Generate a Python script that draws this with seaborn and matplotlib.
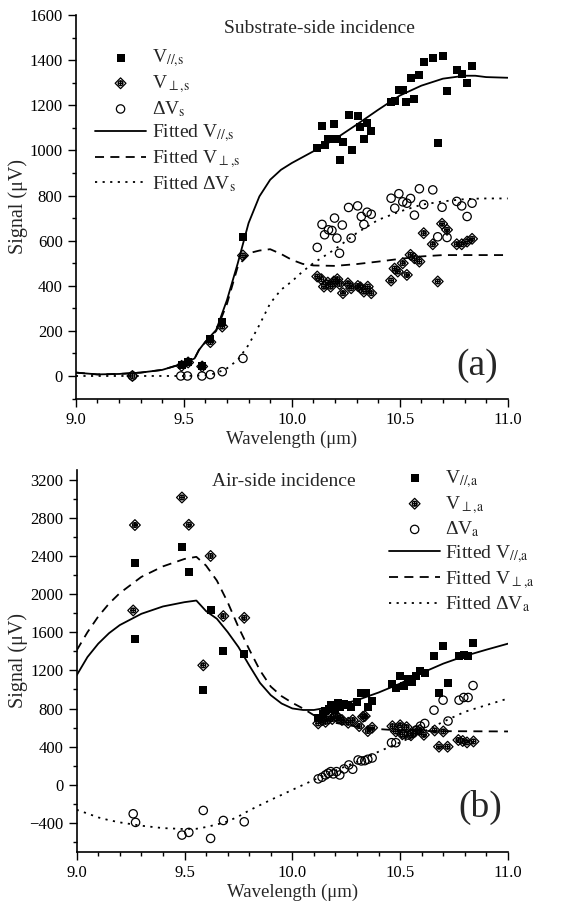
import matplotlib
matplotlib.use('Agg')
import matplotlib.pyplot as plt
from matplotlib.path import Path
from matplotlib.ticker import MultipleLocator, FormatStrFormatter
import numpy as np
import seaborn as sns

# ---- panel (a): substrate-side incidence ----
wl_par_s = [9.49, 9.52, 9.585, 9.623, 9.678, 9.774,
            10.118, 10.14, 10.152, 10.17, 10.195, 10.195, 10.211, 10.223, 10.237, 10.263,
            10.277, 10.305, 10.318, 10.334, 10.349, 10.365,
            10.46, 10.477, 10.496, 10.514, 10.531, 10.55, 10.568, 10.591, 10.611, 10.653,
            10.676, 10.699, 10.719, 10.764, 10.787, 10.812, 10.835]
v_par_s = [49, 64, 46, 164, 241, 615,
           1010, 1109, 1022, 1050, 1118, 1050, 1050, 959, 1037, 1158,
           1000, 1154, 1104, 1050, 1121, 1086,
           1213, 1220, 1266, 1269, 1216, 1322, 1229, 1333, 1392, 1408,
           1033, 1420, 1262, 1358, 1340, 1299, 1373]

wl_perp_s = [9.262, 9.49, 9.52, 9.585, 9.623, 9.678, 9.774,
             10.118, 10.137, 10.149, 10.167, 10.18, 10.195, 10.211, 10.221, 10.237, 10.26,
             10.275, 10.306, 10.318, 10.334, 10.352, 10.368,
             10.46, 10.476, 10.491, 10.514, 10.533, 10.55, 10.568, 10.591, 10.611, 10.653,
             10.676, 10.696, 10.719, 10.764, 10.787, 10.812, 10.835]
v_perp_s = [0, 45, 60, 42, 150, 219, 534,
            441, 429, 396, 414, 396, 419, 429, 408, 367, 411,
            389, 399, 393, 374, 396, 367,
            423, 476, 463, 500, 448, 537, 522, 507, 633, 584,
            419, 675, 648, 584, 584, 596, 608]

wl_dv_s = [9.262, 9.486, 9.517, 9.584, 9.623, 9.678, 9.774,
           10.118, 10.14, 10.152, 10.17, 10.186, 10.198, 10.209, 10.221, 10.234, 10.263,
           10.275, 10.305, 10.322, 10.334, 10.349, 10.368,
           10.46, 10.477, 10.496, 10.514, 10.533, 10.55, 10.568, 10.591, 10.611, 10.653,
           10.676, 10.696, 10.719, 10.764, 10.787, 10.812, 10.835]
dv_s = [0, 0, 0, 0, 6, 19, 78,
        570, 672, 626, 648, 645, 700, 611, 544, 669, 747,
        611, 754, 707, 672, 726, 717,
        788, 744, 808, 772, 766, 787, 713, 830, 760, 825,
        617, 748, 614, 774, 754, 707, 766]

fit_wl_s = [9.0, 9.1, 9.2, 9.3, 9.4, 9.5, 9.55, 9.57, 9.6, 9.65, 9.7, 9.75, 9.8,
            9.85, 9.9, 9.95, 10.0, 10.05, 10.1, 10.2, 10.3, 10.4, 10.5, 10.6, 10.7,
            10.8, 10.85, 10.9, 11.0]
fit_par_s = [15, 7, 9, 15, 27, 56, 78, 115, 152, 204, 337, 500, 678,
             796, 870, 914, 944, 970, 996, 1050, 1114, 1180, 1243, 1287, 1318,
             1331, 1331, 1325, 1322]
fit_perp_s = [15, 7, 9, 15, 27, 56, 78, 115, 150, 200, 320, 485, 544,
              556, 562, 541, 515, 497, 490, 488, 496, 507, 519, 530, 536,
              536, 536, 536, 536]
fit_dv_s = [0, 0, 0, 0, 0, 0, 1, 2, 3, 12, 34, 71, 138,
            226, 322, 382, 419, 463, 500, 562, 633, 692, 729, 759, 774,
            784, 786, 787, 787]

# ---- panel (b): air-side incidence ----
wl_par_a = [9.27, 9.27, 9.488, 9.52, 9.587, 9.621, 9.68, 9.777,
            10.12, 10.14, 10.15, 10.17, 10.18, 10.2, 10.21, 10.22, 10.24, 10.26,
            10.27, 10.3, 10.32, 10.34, 10.35, 10.37,
            10.464, 10.48, 10.498, 10.517, 10.537, 10.555, 10.575, 10.594, 10.614,
            10.657, 10.68, 10.699, 10.722, 10.773, 10.795, 10.815, 10.838]
v_par_a = [1532, 2326, 2490, 2228, 992, 1838, 1403, 1375,
           700, 740, 770, 800, 840, 790, 860, 820, 850, 840,
           820, 870, 960, 960, 820, 880,
           1062, 1020, 1139, 1041, 1114, 1076, 1139, 1194, 1173,
           1351, 968, 1452, 1072, 1351, 1365, 1351, 1487]

wl_perp_a = [9.262, 9.27, 9.488, 9.52, 9.587, 9.621, 9.68, 9.777,
             10.12, 10.138, 10.154, 10.17, 10.185, 10.2, 10.215, 10.23, 10.259, 10.28,
             10.31, 10.328, 10.336, 10.35, 10.37,
             10.464, 10.48, 10.5, 10.51, 10.53, 10.55, 10.57, 10.59, 10.61,
             10.66, 10.68, 10.7, 10.72, 10.77, 10.79, 10.81, 10.84]
v_perp_a = [1828, 2723, 3012, 2726, 1253, 2399, 1769, 1751,
            644, 679, 661, 696, 690, 720, 700, 680, 651, 679,
            616, 714, 721, 564, 599,
            615, 560, 625, 530, 605, 520, 560, 575, 525,
            570, 400, 560, 400, 470, 460, 445, 455]

wl_dv_a = [9.262, 9.273, 9.488, 9.52, 9.587, 9.621, 9.68, 9.777,
           10.12, 10.138, 10.154, 10.166, 10.178, 10.19, 10.205, 10.22, 10.24, 10.262,
           10.28, 10.305, 10.32, 10.336, 10.35, 10.37,
           10.46, 10.48, 10.517, 10.537, 10.555, 10.575, 10.594, 10.614,
           10.657, 10.699, 10.722, 10.773, 10.795, 10.815, 10.838]
dv_a = [-303, -393, -526, -498, -268, -561, -373, -387,
        63, 80, 104, 122, 139, 115, 139, 104, 167, 209,
        164, 261, 251, 254, 268, 282,
        442, 442, 533, 522, 540, 575, 616, 644,
        783, 888, 669, 888, 916, 916, 1041]

fit_wl_a = [9.0, 9.05, 9.1, 9.15, 9.2, 9.3, 9.4, 9.5, 9.555, 9.6, 9.65, 9.7, 9.75, 9.8,
            9.85, 9.9, 9.95, 10.0, 10.05, 10.1, 10.15, 10.2, 10.3, 10.4, 10.5, 10.6,
            10.7, 10.8, 10.9, 11.0]
fit_par_a = [1149, 1340, 1480, 1590, 1675, 1793, 1870, 1915, 1932, 1821, 1741, 1602, 1445, 1253,
             1069, 940, 853, 801, 785, 785, 805, 825, 888, 968, 1062, 1173,
             1271, 1351, 1417, 1480]
fit_perp_a = [1410, 1600, 1765, 1900, 2010, 2180, 2290, 2368, 2390, 2298, 2141, 1915, 1654, 1420,
              1200, 1030, 930, 860, 800, 730, 690, 650, 610, 585, 570, 565,
              563, 562, 561, 560]
fit_dv_a = [-261, -300, -341, -370, -393, -428, -453, -463, -460, -442, -415, -383, -331, -268,
            -212, -157, -105, -52, 0, 52, 100, 150, 244, 348, 446, 547,
            662, 766, 836, 905]

sns.set_style('ticks')
plt.rcParams['font.family'] = ['Liberation Serif', 'DejaVu Serif']
plt.rcParams['mathtext.fontset'] = 'stix'

# diamond with a crossed circle inside
diamond = Path([(0, 1), (1, 0), (0, -1), (-1, 0), (0, 1)], closed=True)
ring = Path.circle((0, 0), 0.45)
cross = Path([(-0.45, 0), (0.45, 0), (0, -0.45), (0, 0.45)],
             [Path.MOVETO, Path.LINETO, Path.MOVETO, Path.LINETO])
dmark = Path.make_compound_path(diamond, ring, cross)

fig = plt.figure(figsize=(5.66, 9.07), dpi=100)
ax_a = fig.add_axes([0.134, 0.5606, 0.763, 0.4228])
ax_b = fig.add_axes([0.1355, 0.061, 0.762, 0.4208])


def draw(ax, sub, wl_p, vp, wl_q, vq, wl_d, dv, fwl, fp, fq, fd):
    sns.scatterplot(x=wl_p, y=vp, ax=ax, marker='s', color='k', s=36, linewidth=0,
                    label=r'V$_{//{,}\mathrm{%s}}$' % sub, zorder=3)
    sns.scatterplot(x=wl_q, y=vq, ax=ax, marker=dmark, color='k', facecolor='none',
                    edgecolor='k', s=60, linewidth=0.9,
                    label=r'V$_{\perp{,}\mathrm{%s}}$' % sub, zorder=3)
    sns.scatterplot(x=wl_d, y=dv, ax=ax, marker='o', color='k', facecolor='none',
                    edgecolor='k', s=36, linewidth=0.9,
                    label=r'ΔV$_{\mathrm{%s}}$' % sub, zorder=3)
    sns.lineplot(x=fwl, y=fp, ax=ax, color='k', lw=1.3, linestyle='-',
                 label=r'Fitted V$_{//{,}\mathrm{%s}}$' % sub)
    sns.lineplot(x=fwl, y=fq, ax=ax, color='k', lw=1.3, linestyle=(0, (5, 3.5)),
                 label=r'Fitted V$_{\perp{,}\mathrm{%s}}$' % sub)
    sns.lineplot(x=fwl, y=fd, ax=ax, color='k', lw=1.3, linestyle=(0, (1.2, 3)),
                 label=r'Fitted ΔV$_{\mathrm{%s}}$' % sub)
    ax.set_xlim(9.0, 11.0)
    ax.xaxis.set_major_locator(MultipleLocator(0.5))
    ax.xaxis.set_minor_locator(MultipleLocator(0.1))
    ax.xaxis.set_major_formatter(FormatStrFormatter('%.1f'))
    ax.tick_params(axis='both', which='major', direction='out', length=6, width=1,
                   labelsize=12, color='k', labelcolor='k')
    ax.tick_params(axis='both', which='minor', direction='out', length=3, width=1, color='k')
    ax.set_xlabel('Wavelength (μm)', fontsize=13.5, labelpad=2)
    ax.set_ylabel('Signal (μV)', fontsize=14.5, labelpad=1)
    for s in ['top', 'right']:
        ax.spines[s].set_visible(False)
    for s in ['left', 'bottom']:
        ax.spines[s].set_color('k')
        ax.spines[s].set_linewidth(1.2)


draw(ax_a, 's', wl_par_s, v_par_s, wl_perp_s, v_perp_s, wl_dv_s, dv_s,
     fit_wl_s, fit_par_s, fit_perp_s, fit_dv_s)
ax_a.set_ylim(-100, 1600)
ax_a.yaxis.set_major_locator(MultipleLocator(200))
ax_a.yaxis.set_minor_locator(MultipleLocator(100))
ax_a.text(0.565, 0.965, 'Substrate-side incidence', transform=ax_a.transAxes,
          ha='center', va='center', fontsize=14)
ax_a.text(0.93, 0.085, '(a)', transform=ax_a.transAxes, ha='center', va='center', fontsize=27)
ax_a.legend(loc='upper left', bbox_to_anchor=(0.045, 0.915), frameon=False, fontsize=14,
            handlelength=2.6, handletextpad=0.3, labelspacing=0.2, borderpad=0,
            borderaxespad=0)

draw(ax_b, 'a', wl_par_a, v_par_a, wl_perp_a, v_perp_a, wl_dv_a, dv_a,
     fit_wl_a, fit_par_a, fit_perp_a, fit_dv_a)
ax_b.set_ylim(-700, 3300)
ax_b.yaxis.set_major_locator(MultipleLocator(400))
ax_b.yaxis.set_minor_locator(MultipleLocator(200))
ax_b.text(0.48, 0.97, 'Air-side incidence', transform=ax_b.transAxes,
          ha='center', va='center', fontsize=14)
ax_b.text(0.935, 0.115, '(b)', transform=ax_b.transAxes, ha='center', va='center', fontsize=27)
ax_b.legend(loc='upper left', bbox_to_anchor=(0.725, 1.005), frameon=False, fontsize=14,
            handlelength=2.6, handletextpad=0.25, labelspacing=0.2, borderpad=0,
            borderaxespad=0)

fig.savefig('out.png', dpi=100)
